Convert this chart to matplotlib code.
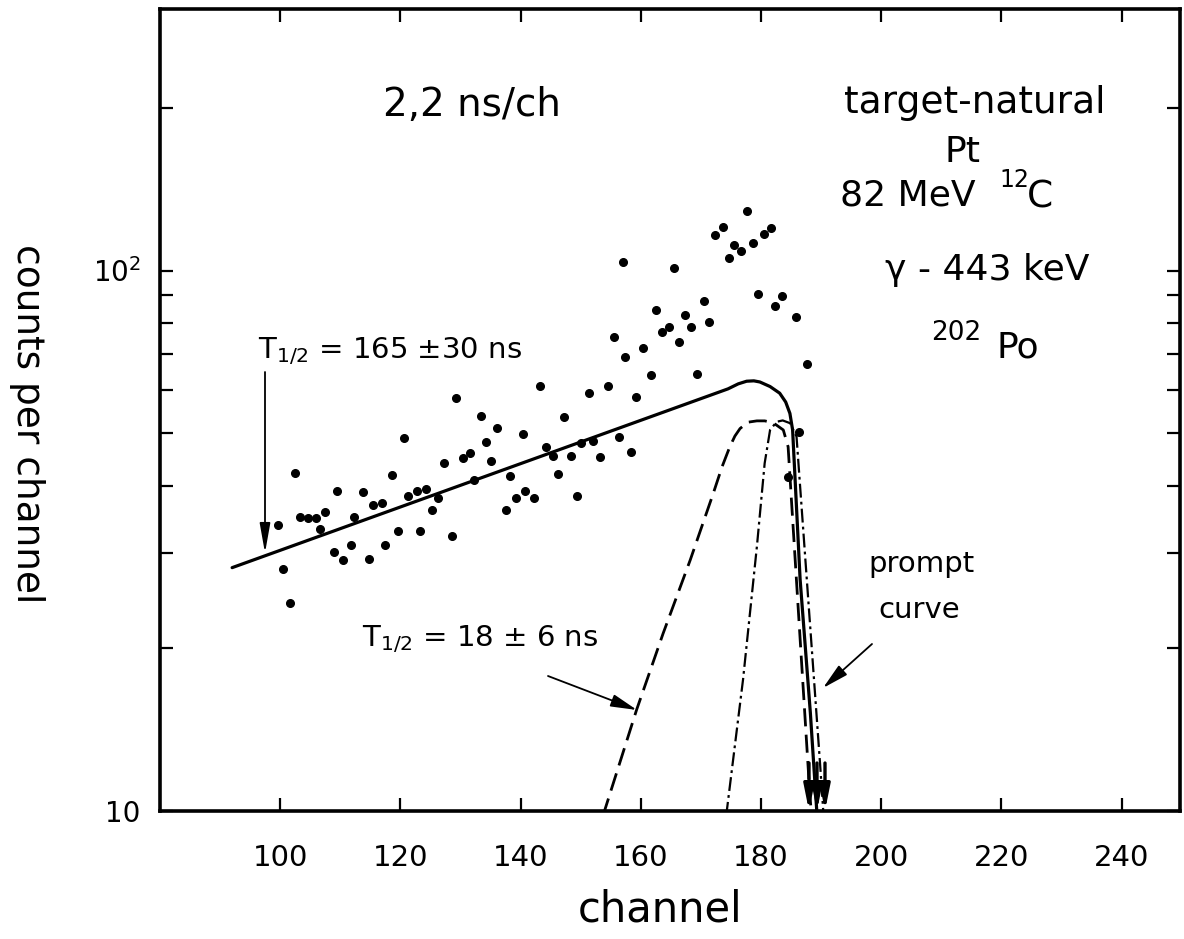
import matplotlib
matplotlib.use('Agg')
import matplotlib.pyplot as plt
from matplotlib.ticker import FixedLocator, FixedFormatter, NullFormatter

plt.rcParams['font.family'] = ['DejaVu Sans']
plt.rcParams['mathtext.default'] = 'regular'
plt.rcParams['lines.scale_dashes'] = False

# ---- data ----
channel = [99.6, 102.4, 100.5, 101.7, 103.3, 104.7, 105.9, 107.4, 106.6, 109.4,
           108.9, 110.5, 111.7, 112.2, 113.8, 114.8, 115.5, 117.0, 117.4, 118.6,
           119.6, 120.6, 121.3, 122.7, 124.2, 123.3, 125.2, 126.3, 127.3, 128.5,
           129.2, 130.4, 131.5, 132.3, 133.4, 134.2, 135.1, 136.1, 137.5, 138.2,
           139.2, 140.4, 140.8, 142.3, 143.3, 144.2, 145.4, 146.2, 147.2, 148.3,
           149.4, 150.1, 151.3, 152.1, 153.2, 154.5, 155.5, 156.4, 157.1, 157.3,
           158.4, 159.2, 160.4, 161.7, 162.6, 163.5, 164.7, 165.5, 166.3, 167.3,
           168.4, 169.3, 170.5, 171.3, 172.3, 173.7, 174.7, 175.5, 176.6, 177.6,
           178.7, 179.5, 180.5, 181.6, 182.3, 183.5, 185.8, 187.6, 186.3, 184.5]
counts = [33.8, 42.2, 28.0, 24.3, 35.0, 34.9, 34.8, 35.8, 33.2, 39.1,
          30.1, 29.1, 31.0, 35.0, 38.9, 29.3, 36.9, 37.1, 31.0, 41.8,
          33.0, 48.9, 38.3, 39.1, 39.4, 33.0, 36.1, 38.0, 44.1, 32.3,
          58.0, 44.9, 46.0, 41.0, 53.9, 48.2, 44.4, 51.2, 36.1, 41.7,
          38.0, 49.8, 39.1, 38.0, 61.2, 47.2, 45.3, 42.0, 53.5, 45.3,
          38.2, 47.9, 59.3, 48.3, 45.1, 61.1, 75.4, 49.2, 103.8, 69.2,
          46.2, 58.3, 71.9, 64.0, 84.5, 76.9, 78.6, 100.9, 73.6, 82.6,
          78.6, 64.3, 87.8, 80.4, 116.4, 120.2, 105.5, 111.4, 108.8, 129.0,
          112.3, 90.4, 116.7, 120.0, 86.1, 89.7, 82.1, 67.1, 50.2, 41.5]

# fitted curves (vertices)
total_fit_ch = [92.0, 174.5, 176.2, 177.6, 178.8, 179.8, 181.5, 183.1, 184.1,
                184.8, 185.25, 186.5, 188.2, 189.4]
total_fit_counts = [28.2, 60.4, 61.7, 62.4, 62.5, 62.2, 61.0, 59.3, 57.1,
                    54.4, 50.7, 26.8, 15.2, 9.5]

short_fit_ch = [153.7, 159.3, 163.7, 168.2, 172.05, 173.5, 174.8, 175.65, 176.5,
                177.8, 179.3, 180.6, 182.0, 183.7, 184.5, 188.1, 188.4]
short_fit_counts = [9.8, 15.4, 21.3, 29.1, 38.7, 43.3, 47.2, 49.4, 51.0,
                    52.4, 52.7, 52.7, 52.3, 50.7, 47.2, 10.8, 9.8]

prompt_ch = [174.2, 177.0, 179.3, 180.6, 181.5, 182.6, 183.6, 184.8, 185.9,
             189.8, 190.4]
prompt_counts = [9.8, 17.5, 30.8, 44.0, 50.7, 52.5, 52.8, 52.2, 49.3,
                 12.3, 9.8]

x_ticks = [100, 120, 140, 160, 180, 200, 220, 240]
x_tick_labels = ['100', '120', '140', '160', '180', '200', '220', '240']
y_major = [10, 100]
y_major_labels = ['10', '$10^2$']
y_minor = [20, 30, 40, 50, 60, 70, 80, 90, 200]

# ---- figure ----
W, H = 1184, 939
L, R, T, B = 160, 1180, 9, 811
fig = plt.figure(figsize=(W / 100, H / 100), dpi=100)
ax = fig.add_axes([L / W, (H - B) / H, (R - L) / W, (B - T) / H])


def fx(px):
    return (px - L) / (R - L)


def fy(py):
    return (B - py) / (B - T)


def fp(px, py):
    return (fx(px), fy(py))


ax.set_yscale('log')
ax.set_xlim(80, 249.7)
ax.set_ylim(10, 304.7)

ax.plot(channel, counts, linestyle='none', marker='o', ms=5.5, color='black')
ax.plot(total_fit_ch, total_fit_counts, color='black', lw=2.3,
        solid_capstyle='round', solid_joinstyle='round')
ax.plot(short_fit_ch, short_fit_counts, color='black', lw=2.0,
        linestyle=(0, (13, 6)))
ax.plot(prompt_ch, prompt_counts, color='black', lw=1.6,
        linestyle=(0, (10, 3, 2, 3)))

# ticks
ax.xaxis.set_major_locator(FixedLocator(x_ticks))
ax.xaxis.set_major_formatter(FixedFormatter(x_tick_labels))
ax.xaxis.set_minor_locator(FixedLocator([]))
ax.yaxis.set_major_locator(FixedLocator(y_major))
ax.yaxis.set_major_formatter(FixedFormatter(y_major_labels))
ax.yaxis.set_minor_locator(FixedLocator(y_minor))
ax.yaxis.set_minor_formatter(NullFormatter())
ax.tick_params(which='both', direction='in', top=True, right=True,
               length=9.5, width=1.6, color='black')
ax.tick_params(axis='x', labelsize=21, pad=24)
ax.tick_params(axis='y', labelsize=20, pad=14)
for s in ax.spines.values():
    s.set_linewidth(2.6)

ax.set_xlabel('channel', fontsize=30, va='center')
ax.xaxis.set_label_coords(fx(660), fy(910))
ax.set_ylabel('counts per channel', fontsize=27, rotation=270,
              va='center', ha='center')
ax.yaxis.set_label_coords(fx(27), fy(424))

# annotations
tr = ax.transAxes
ax.text(*fp(472, 105), '2,2 ns/ch', fontsize=28, ha='center', va='center',
        transform=tr)
ax.text(*fp(975, 113), 'target-natural', fontsize=27, ha='center',
        va='baseline', transform=tr)
ax.text(*fp(963, 162), 'Pt', fontsize=26, ha='center', va='baseline',
        transform=tr)
ax.text(*fp(840, 206), '82 MeV', fontsize=26, ha='left', va='baseline',
        transform=tr)
ax.text(*fp(999, 187), '12', fontsize=17, ha='left', va='baseline',
        transform=tr)
ax.text(*fp(1027, 207), 'C', fontsize=27, ha='left', va='baseline',
        transform=tr)
ax.text(*fp(885, 280), 'γ - 443 keV', fontsize=26, ha='left', va='baseline',
        transform=tr)
ax.text(*fp(931, 340), '202', fontsize=19, ha='left', va='baseline',
        transform=tr)
ax.text(*fp(996, 357), 'Po', fontsize=26, ha='left', va='baseline',
        transform=tr)

ax.text(*fp(258, 358), 'T$_{1/2}$ = 165 ±30 ns', fontsize=21, ha='left',
        va='baseline', transform=tr)
ax.text(*fp(362, 646), 'T$_{1/2}$ = 18 ± 6 ns', fontsize=21, ha='left',
        va='baseline', transform=tr)
ax.text(*fp(868, 572), 'prompt', fontsize=21, ha='left', va='baseline',
        transform=tr)
ax.text(*fp(878, 618), 'curve', fontsize=21, ha='left', va='baseline',
        transform=tr)

arrow_kw = dict(arrowstyle='-|>,head_length=1.8,head_width=0.32',
                color='black', lw=1.3, mutation_scale=10,
                shrinkA=0, shrinkB=0)
ax.annotate('', xy=fp(265, 553), xytext=fp(265, 372), xycoords='axes fraction',
            textcoords='axes fraction', arrowprops=arrow_kw)
ax.annotate('', xy=fp(637, 710), xytext=fp(548, 676), xycoords='axes fraction',
            textcoords='axes fraction',
            arrowprops=dict(arrow_kw,
                            arrowstyle='-|>,head_length=1.6,head_width=0.38'))
ax.annotate('', xy=fp(823, 688), xytext=fp(872, 644), xycoords='axes fraction',
            textcoords='axes fraction',
            arrowprops=dict(arrow_kw,
                            arrowstyle='-|>,head_length=1.6,head_width=0.38'))
for px in (809, 817, 825):
    ax.annotate('', xy=fp(px, 811), xytext=fp(px, 763),
                xycoords='axes fraction', textcoords='axes fraction',
                arrowprops=dict(arrow_kw, lw=2.4,
                                arrowstyle='-|>,head_length=1.5,head_width=0.3'))

fig.savefig('out.png', dpi=100)
